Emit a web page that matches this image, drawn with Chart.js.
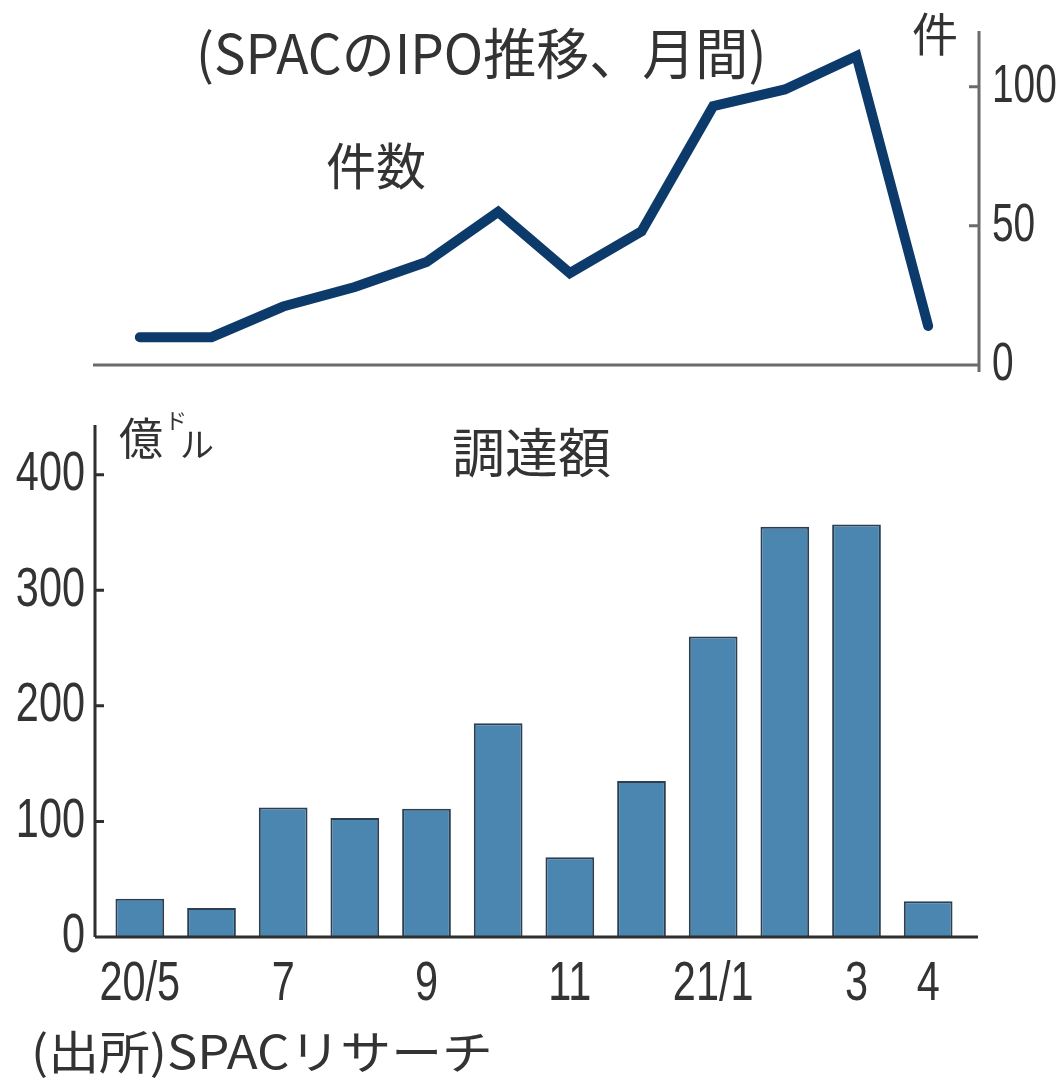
<!DOCTYPE html>
<html lang="ja">
<head>
<meta charset="utf-8">
<script src="https://cdn.jsdelivr.net/npm/chart.js@4.4.1/dist/chart.umd.min.js"></script>
<style>
  html, body { margin: 0; padding: 0; background: #fff; }
  body { width: 1062px; height: 1081px; position: relative; overflow: hidden;
         font-family: "Noto Sans CJK JP", sans-serif; color: #333; }
  .wrap { position: absolute; left: 0; width: 1062px; }
  #top-wrap { top: 0; height: 400px; }
  #bottom-wrap { top: 400px; height: 681px; }
  .lbl { position: absolute; white-space: nowrap; line-height: 1; transform-origin: left top; }
</style>
</head>
<body>
<div class="wrap" id="top-wrap"><canvas id="chart-count" width="1062" height="400"></canvas></div>
<div class="wrap" id="bottom-wrap"><canvas id="chart-amount" width="1062" height="681"></canvas></div>

<div class="lbl" data-w="570" style="left:196px;top:23px;font-size:55px">(SPACのIPO推移、月間)</div>
<div class="lbl" style="left:912px;top:8px;font-size:46px">件</div>
<div class="lbl" style="left:326px;top:138px;font-size:50px">件数</div>
<div class="lbl" style="left:119px;top:414px;font-size:44px">億</div>
<div class="lbl" style="left:165px;top:408px;font-size:22px">ド</div>
<div class="lbl" style="left:180px;top:426px;font-size:34px">ル</div>
<div class="lbl" style="left:452px;top:424px;font-size:53px">調達額</div>
<div class="lbl" data-w="462" style="left:31px;top:1026px;font-size:46px">(出所)SPACリサーチ</div>

<script>
// ---- data ----
const months = ['20/5','20/6','20/7','20/8','20/9','20/10','20/11','20/12','21/1','21/2','21/3','21/4'];
const monthTickLabels = ['20/5','','7','','9','','11','','21/1','','3','4'];
const ipoCounts = [10, 10, 21, 28, 37, 55, 33, 48, 93, 99, 111, 14];        // 件
const raisedAmounts = [33, 25, 112, 103, 111, 185, 69, 135, 260, 355, 357, 31]; // 億ドル
const countTicks = [0, 50, 100];
const amountTicks = [0, 100, 200, 300, 400];

const NUM_FONT = '"Liberation Sans", Arial, sans-serif';

// squeeze wide labels to the width they have in the print
document.querySelectorAll('.lbl[data-w]').forEach(el => {
  el.style.transform = `scaleX(${el.dataset.w / el.offsetWidth})`;
});

// axis lines + inner tick marks, drawn off the chart's own scales
const axisLines = {
  id: 'axisLines',
  afterDraw(chart, args, o) {
    const { ctx, chartArea: a, scales: { y } } = chart;
    const y0 = y.getPixelForValue(0);
    const ax = o.side === 'left' ? a.left + o.axisOffset : a.right + o.axisOffset;
    ctx.save();
    ctx.strokeStyle = o.color;
    ctx.lineWidth = o.width;
    ctx.beginPath();
    ctx.moveTo(a.left + o.xFrom, y0);
    ctx.lineTo(a.right + o.xTo, y0);
    ctx.moveTo(ax, a.top);
    ctx.lineTo(ax, y0 + o.below);
    y.ticks.forEach(t => {
      const py = y.getPixelForValue(t.value);
      ctx.moveTo(ax, py);
      ctx.lineTo(ax + (o.side === 'left' ? o.tick : -o.tick), py);
    });
    ctx.stroke();
    ctx.restore();
  }
};

// condensed tick labels (no narrow font installed), placed from the scales' ticks
const narrowTicks = {
  id: 'narrowTicks',
  afterDraw(chart, args, o) {
    const { ctx, chartArea: a } = chart;
    ctx.save();
    ctx.fillStyle = '#333';
    ctx.font = `${o.size}px ${NUM_FONT}`;
    ctx.textBaseline = 'middle';
    o.axes.forEach(ax => {
      const s = chart.scales[ax.id];
      s.ticks.forEach((t, i) => {
        if (!t.label) return;
        let x, y;
        if (s.isHorizontal()) { x = s.getPixelForTick(i); y = a.bottom + ax.offset; }
        else { y = s.getPixelForValue(t.value); x = (ax.side === 'left' ? a.left : a.right) + ax.offset; }
        ctx.save();
        ctx.translate(x, y);
        ctx.scale(o.squeeze, 1);
        ctx.textAlign = ax.align;
        ctx.fillText(t.label, 0, 0);
        ctx.restore();
      });
    });
    ctx.restore();
  }
};

const base = {
  responsive: false,
  animation: false,
  events: [],
  plugins: { legend: { display: false }, tooltip: { enabled: false } }
};

new Chart(document.getElementById('chart-count'), {
  type: 'line',
  data: {
    labels: months,
    datasets: [{
      data: ipoCounts,
      borderColor: '#0c3a6b',
      borderWidth: 10,
      pointRadius: 0,
      tension: 0,
      borderCapStyle: 'round',
      borderJoinStyle: 'miter',
      clip: false
    }]
  },
  options: {
    ...base,
    layout: { padding: { left: 104, right: 0, top: 31, bottom: 35 } },
    scales: {
      x: { display: false, offset: true },
      y: {
        position: 'right', min: 0, max: 120,
        afterBuildTicks: s => { s.ticks = countTicks.map(v => ({ value: v })); },
        afterFit: s => { s.width = 98; },
        grid: { display: false, drawTicks: false },
        border: { display: false },
        ticks: { display: false }
      }
    },
    plugins: { ...base.plugins,
      axisLines: { side: 'right', axisOffset: 15, xFrom: -11, xTo: 15, below: 7, tick: 10, color: '#6b6b6b', width: 3 },
      narrowTicks: { size: 54, squeeze: 0.72, axes: [{ id: 'y', side: 'right', offset: 28, align: 'left' }] } }
  },
  plugins: [axisLines, narrowTicks]
});

new Chart(document.getElementById('chart-amount'), {
  type: 'bar',
  data: {
    labels: monthTickLabels,
    datasets: [{
      data: raisedAmounts,
      backgroundColor: '#4a86b0',
      borderColor: '#2c3e50',
      borderWidth: 2,
      borderSkipped: 'bottom',
      categoryPercentage: 1,
      barPercentage: 0.68
    }]
  },
  options: {
    ...base,
    layout: { padding: { left: 0, right: 98, top: 25, bottom: 0 } },
    scales: {
      x: {
        afterFit: s => { s.height = 144; },
        grid: { display: false, drawTicks: false },
        border: { display: false },
        ticks: { display: false, autoSkip: false }
      },
      y: {
        min: 0, max: 443,
        afterBuildTicks: s => { s.ticks = amountTicks.map(v => ({ value: v })); },
        afterFit: s => { s.width = 104; },
        grid: { display: false, drawTicks: false },
        border: { display: false },
        ticks: { display: false }
      }
    },
    plugins: { ...base.plugins,
      axisLines: { side: 'left', axisOffset: -9, xFrom: -9, xTo: 14, below: 0, tick: 9, color: '#2f2f2f', width: 3 },
      narrowTicks: { size: 56, squeeze: 0.74, axes: [
        { id: 'y', side: 'left', offset: -19, align: 'right' },
        { id: 'x', offset: 48, align: 'center' }
      ] } }
  },
  plugins: [axisLines, narrowTicks]
});
</script>
</body>
</html>
